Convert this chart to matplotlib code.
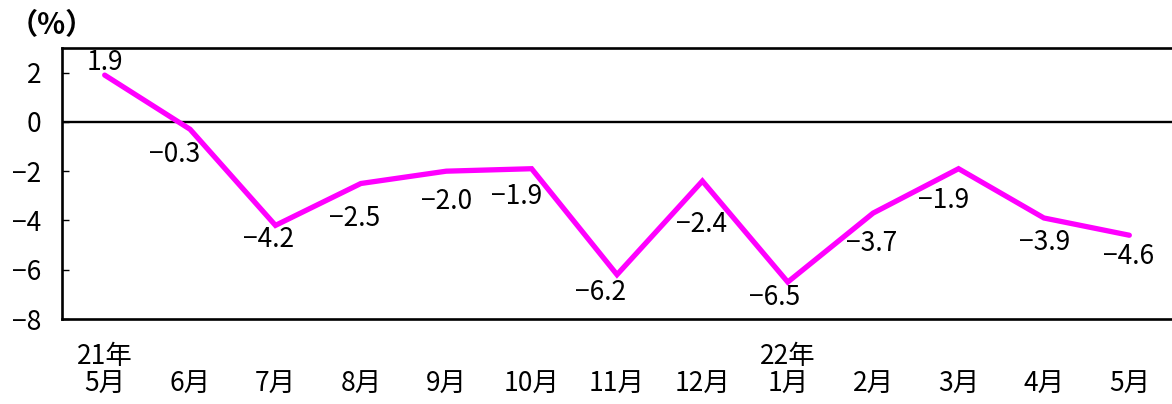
import matplotlib
matplotlib.use("Agg")
import matplotlib.pyplot as plt
import matplotlib.transforms as mtransforms

plt.rcParams['font.family'] = ['Noto Sans CJK JP', 'DejaVu Sans']
plt.rcParams['axes.unicode_minus'] = True

months = ["5月", "6月", "7月", "8月", "9月", "10月", "11月", "12月", "1月", "2月", "3月", "4月", "5月"]
years = {0: "21年", 8: "22年"}
values = [1.9, -0.3, -4.2, -2.5, -2.0, -1.9, -6.2, -2.4, -6.5, -3.7, -1.9, -3.9, -4.6]
yticks = [2, 0, -2, -4, -6, -8]

# label placement offsets (pixels: right, down) relative to each point
label_dx = [0, -15, -7, -6, 0, -15, -16, -1, -13, -2, -15, 1, -1]
label_dy = [-13, 25, 14, 35, 30, 28, 18, 43, 15, 30, 32, 25, 21]

W, H = 1172, 404
fig = plt.figure(figsize=(W / 100, H / 100), dpi=100)
ax = fig.add_axes([62 / W, 1 - 319 / H, 1 - 62 / W, (319 - 48) / H])

x = list(range(len(values)))
ax.plot(x, values, color="#FF00FF", lw=3.8, solid_joinstyle="miter",
        solid_capstyle="round", zorder=3)
ax.axhline(0, color="black", lw=1.7, zorder=2)

fs = 19
for xi, v, dx, dy in zip(x, values, label_dx, label_dy):
    lab = f"{v:.1f}".replace("-", "\u2212")
    ax.annotate(lab, (xi, v), xytext=(dx * 0.72, -dy * 0.72), textcoords="offset points",
                ha="center", va="center", fontsize=fs, zorder=4)

ax.set_xlim(-0.5, 12.5)
ax.set_ylim(-8, 3)
ax.set_yticks(yticks)
ax.set_yticklabels([str(t).replace("-", "\u2212") for t in yticks], fontsize=fs)
ax.set_xticks([])
ax.tick_params(axis="y", direction="in", length=5, width=1, pad=15)

trans = mtransforms.blended_transform_factory(ax.transData, fig.transFigure)
for xi, m in zip(x, months):
    ax.text(xi, 1 - 384 / H, m, transform=trans, ha="center", va="center", fontsize=fs)
for xi, yl in years.items():
    ax.text(xi, 1 - 356 / H, yl, transform=trans, ha="center", va="center", fontsize=fs)

for s in ["left", "bottom", "top"]:
    ax.spines[s].set_linewidth(1.9)
ax.spines["right"].set_visible(False)

fig.text(52 / W, 1 - 25 / H, "（%）", ha="center", va="center", fontsize=21,
         fontweight="bold")

fig.savefig("out.png", dpi=100)
